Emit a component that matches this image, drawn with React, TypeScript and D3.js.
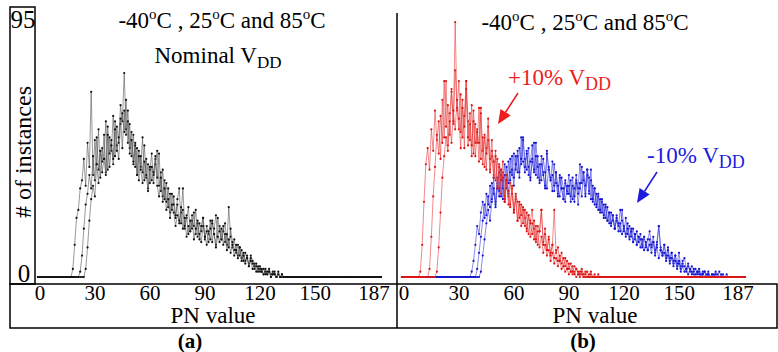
import React from "react";
import * as d3 from "d3";

const PN_MAX = 187;
const Y_MAX = 95;
const xTicks = [0, 30, 60, 90, 120, 150, 187];

// (a) nominal VDD, one series per temperature: first non-zero PN + counts
const nomStart = [19, 23, 26];
const nom40 = [
  3, 12, 22, 25, 33, 36, 44, 34, 50, 41,
  69, 38, 51, 42, 55, 37, 48, 44, 58, 40,
  52, 47, 60, 45, 56, 50, 64, 58, 76, 55,
  62, 48, 54, 42, 50, 38, 47, 41, 52, 36,
  44, 33, 40, 46, 35, 42, 47, 34, 39, 30,
  36, 28, 33, 24, 31, 27, 22, 29, 33, 20,
  25, 18, 22, 26, 17, 21, 19, 25, 15, 20,
  17, 22, 14, 19, 16, 21, 13, 18, 23, 15,
  19, 14, 17, 20, 12, 26, 15, 11, 14, 9,
  12, 8, 10, 6, 9, 7, 5, 8, 6, 4,
  5, 3, 4, 2, 3, 1, 2, 3, 1, 2,
  1, 0, 1, 0, 1, 0, 0,
];
const nom25 = [
  2, 8, 18, 27, 31, 38, 33, 45, 36, 52,
  40, 47, 43, 53, 39, 56, 46, 51, 42, 58,
  49, 44, 57, 61, 54, 66, 50, 57, 45, 53,
  41, 48, 36, 45, 39, 49, 37, 42, 35, 41,
  38, 44, 37, 46, 32, 40, 29, 35, 26, 31,
  25, 30, 23, 27, 20, 24, 33, 19, 23, 16,
  21, 18, 24, 16, 20, 14, 19, 22, 15, 17,
  13, 18, 21, 16, 12, 22, 17, 14, 19, 13,
  16, 11, 18, 13, 10, 12, 8, 11, 7, 9,
  6, 8, 4, 7, 5, 3, 4, 2, 3, 2,
  1, 3, 1, 2, 0, 1, 2, 0, 1, 0,
];
const nom85 = [
  3, 11, 21, 29, 34, 30, 42, 35, 47, 39,
  44, 38, 53, 41, 49, 44, 55, 47, 52, 59,
  48, 62, 53, 58, 46, 51, 43, 49, 38, 45,
  40, 35, 43, 38, 32, 41, 36, 39, 45, 34,
  30, 37, 28, 33, 25, 29, 22, 27, 24, 19,
  23, 21, 26, 18, 22, 15, 19, 17, 23, 14,
  18, 21, 16, 13, 19, 15, 12, 17, 14, 20,
  16, 11, 15, 13, 18, 12, 16, 10, 14, 9,
  12, 8, 10, 7, 11, 6, 8, 5, 7, 4,
  6, 3, 5, 2, 4, 2, 3, 1, 2, 1,
  2, 0, 1, 1, 0, 2, 0, 1, 0, 0,
];

// (b) +10% VDD
const hiStart = [10, 15, 19];
const hi40 = [
  2, 12, 28, 42, 48, 40, 55, 47, 62, 51,
  58, 44, 66, 52, 73, 49, 61, 70, 57, 95,
  62, 73, 54, 66, 48, 73, 58, 51, 64, 46,
  57, 50, 63, 44, 52, 41, 48, 59, 40, 45,
  38, 47, 34, 42, 31, 39, 28, 35, 30, 26,
  33, 24, 29, 21, 27, 19, 25, 22, 17, 23,
  15, 20, 18, 13, 17, 11, 15, 9, 12, 8,
  10, 6, 9, 5, 7, 4, 6, 3, 4, 2,
  3, 1, 2, 1, 2, 0, 1, 0, 1, 0,
];
const hi25 = [
  3, 15, 30, 41, 53, 46, 60, 50, 73, 56,
  64, 53, 69, 58, 77, 63, 55, 68, 52, 60,
  73, 49, 57, 45, 62, 50, 55, 43, 63, 47,
  52, 40, 56, 44, 51, 37, 45, 33, 41, 36,
  43, 30, 38, 27, 35, 31, 24, 30, 21, 28,
  23, 26, 19, 24, 16, 21, 25, 14, 19, 12,
  17, 25, 13, 18, 10, 15, 8, 12, 25, 9,
  11, 6, 9, 4, 7, 3, 5, 2, 4, 1,
  3, 2, 1, 2, 0, 1, 2, 0, 1, 0,
];
const hi85 = [
  2, 11, 24, 37, 45, 52, 47, 58, 50, 62,
  55, 66, 59, 48, 63, 56, 70, 52, 61, 49,
  58, 45, 54, 50, 61, 42, 53, 46, 51, 39,
  47, 43, 36, 44, 33, 40, 37, 29, 36, 32,
  27, 34, 25, 31, 28, 22, 27, 20, 25, 18,
  23, 20, 16, 21, 14, 19, 17, 25, 12, 16,
  10, 14, 9, 12, 7, 10, 6, 8, 5, 7,
  4, 6, 3, 5, 2, 4, 3, 1, 2, 3,
  1, 2, 0, 1, 2, 0, 1, 0, 1, 0, 0,
];

// (b) -10% VDD
const loStart = [38, 41, 43];
const lo40 = [
  2, 6, 12, 19, 16, 24, 28, 22, 31, 27,
  34, 29, 37, 26, 33, 39, 30, 36, 28, 41,
  35, 44, 38, 46, 40, 45, 37, 52, 43, 39,
  47, 41, 36, 44, 50, 38, 45, 35, 42, 39,
  33, 47, 40, 36, 43, 34, 39, 31, 37, 33,
  29, 35, 32, 38, 30, 34, 28, 36, 33, 42,
  35, 39, 31, 40, 37, 29, 34, 27, 31, 25,
  29, 24, 27, 22, 26, 20, 24, 21, 18, 23,
  19, 25, 21, 17, 22, 16, 19, 15, 18, 14,
  17, 13, 16, 12, 15, 11, 14, 17, 12, 15,
  10, 13, 19, 11, 9, 12, 8, 11, 7, 9,
  6, 8, 5, 9, 4, 6, 7, 3, 5, 2,
  4, 3, 1, 2, 3, 1, 2, 0, 1, 2,
  0, 1, 0, 2, 1, 0, 1, 0, 0, 1,
];
const lo25 = [
  3, 9, 15, 21, 27, 23, 30, 26, 35, 31,
  28, 37, 32, 40, 29, 38, 33, 43, 36, 40,
  34, 45, 39, 48, 42, 52, 44, 40, 48, 37,
  43, 39, 50, 41, 36, 45, 38, 34, 46, 40,
  37, 32, 42, 35, 30, 38, 33, 29, 36, 31,
  34, 28, 37, 30, 35, 27, 33, 41, 36, 30,
  38, 32, 40, 28, 33, 26, 30, 24, 28, 22,
  26, 21, 24, 19, 23, 18, 21, 20, 17, 25,
  18, 16, 20, 15, 18, 13, 16, 12, 15, 14,
  11, 15, 12, 10, 14, 11, 13, 9, 12, 19,
  10, 8, 12, 7, 10, 6, 9, 5, 8, 4,
  6, 3, 5, 4, 2, 4, 3, 1, 2, 3,
  1, 2, 0, 1, 2, 0, 1, 0, 1, 0,
  1, 0, 2, 0, 1, 0, 0, 0,
];
const lo85 = [
  2, 8, 14, 20, 25, 21, 28, 33, 27, 35,
  30, 38, 33, 42, 36, 31, 39, 45, 37, 42,
  47, 39, 44, 51, 41, 46, 38, 43, 49, 40,
  45, 37, 42, 36, 44, 39, 33, 41, 36, 38,
  32, 39, 34, 30, 37, 33, 28, 34, 31, 36,
  29, 33, 38, 31, 35, 30, 39, 34, 40, 31,
  36, 29, 33, 27, 31, 25, 29, 23, 27, 21,
  24, 20, 23, 18, 22, 17, 20, 16, 19, 15,
  18, 14, 17, 13, 16, 12, 15, 11, 14, 10,
  13, 10, 12, 9, 13, 8, 11, 7, 10, 8,
  9, 6, 8, 5, 7, 4, 6, 3, 5, 2,
  4, 2, 3, 1, 3, 2, 1, 0, 2, 1,
  0, 1, 2, 0, 1, 0, 0, 1, 0, 0,
];

const FONT = "Liberation Serif, DejaVu Serif, serif";

// full 0..187 run, zero outside the counted stretch
const toPoints = (start: number, vals: number[]) =>
  d3.range(0, PN_MAX + 1).map((pn) => {
    const i = pn - start;
    return [pn, i >= 0 && i < vals.length ? vals[i] : 0] as [number, number];
  });

const y = d3.scaleLinear().domain([0, Y_MAX]).range([277, 22]);

type Series = { start: number; values: number[]; line: string; dot: string };

const Panel = ({ x0, x1, series }: { x0: number; x1: number; series: Series[] }) => {
  const x = d3.scaleLinear().domain([0, PN_MAX]).range([x0, x1]);
  const line = d3.line<[number, number]>().x((d) => x(d[0])).y((d) => y(d[1]));
  return (
    <g>
      {series.map((s, si) => {
        const pts = toPoints(s.start, s.values);
        return (
          <g key={si}>
            <path d={line(pts) || ""} fill="none" stroke={s.line} strokeWidth={0.6} />
            {pts.map((p, i) => (
              <circle key={i} cx={x(p[0])} cy={y(p[1])} r={1.1} fill={s.dot} />
            ))}
          </g>
        );
      })}
      {xTicks.map((t) => (
        <text key={t} x={t === 187 ? x(t) - 7 : x(t) + 2} y={300} fontSize={21} textAnchor="middle" style={{ fontFamily: FONT }}>
          {t}
        </text>
      ))}
    </g>
  );
};

const Temps = ({ cx, cy }: { cx: number; cy: number }) => (
  <text x={cx} y={cy} fontSize={23} textAnchor="middle" style={{ fontFamily: FONT }}>
    -40<tspan fontSize={15} dy={-9}>o</tspan>
    <tspan dy={9}>C , 25</tspan>
    <tspan fontSize={15} dy={-9}>o</tspan>
    <tspan dy={9}>C and 85</tspan>
    <tspan fontSize={15} dy={-9}>o</tspan>
    <tspan dy={9}>C</tspan>
  </text>
);

const Arrow = ({ x1, y1, x2, y2, color }: { x1: number; y1: number; x2: number; y2: number; color: string }) => {
  const a = Math.atan2(y2 - y1, x2 - x1);
  const len = 14, half = 6;
  const bx = x2 - len * Math.cos(a), by = y2 - len * Math.sin(a);
  const px = -Math.sin(a) * half, py = Math.cos(a) * half;
  return (
    <g>
      <line x1={x1} y1={y1} x2={bx} y2={by} stroke={color} strokeWidth={1.5} />
      <polygon points={`${x2},${y2} ${bx + px},${by + py} ${bx - px},${by - py}`} fill={color} />
    </g>
  );
};

export default function App() {
  const red = "#ee1c1c";
  const blue = "#1c1cdc";
  const nomSeries: Series[] = [nom40, nom25, nom85].map((v, i) => ({ start: nomStart[i], values: v, line: "#555", dot: "#111" }));
  const loSeries: Series[] = [lo40, lo25, lo85].map((v, i) => ({ start: loStart[i], values: v, line: "#3a3ae0", dot: "#1414cc" }));
  const hiSeries: Series[] = [hi40, hi25, hi85].map((v, i) => ({ start: hiStart[i], values: v, line: "#e83a3a", dot: "#dc1414" }));
  const f = { fontFamily: FONT };

  return (
    <svg width={778} height={352} style={{ position: "absolute", left: 0, top: 0, background: "#fff" }}>
      {/* frames */}
      <rect x={10} y={7} width={25} height={277} fill="none" stroke="#000" strokeWidth={1.5} />
      <rect x={10} y={284} width={767} height={44} fill="none" stroke="#000" strokeWidth={1.5} />
      <line x1={397} y1={13} x2={397} y2={328} stroke="#000" strokeWidth={1.5} />

      <text x={23} y={28} fontSize={25} textAnchor="middle" style={f}>95</text>
      <text x={24} y={282} fontSize={25} textAnchor="middle" style={f}>0</text>
      <text transform="translate(31,152) rotate(-90)" fontSize={24} textAnchor="middle" style={f}>
        # of instances
      </text>

      <Panel x0={38} x1={381} series={nomSeries} />
      <Panel x0={402} x1={745} series={[...loSeries, ...hiSeries]} />

      <Temps cx={222} cy={28} />
      <text x={218} y={63} fontSize={23} textAnchor="middle" style={f}>
        Nominal V<tspan fontSize={17} dy={5}>DD</tspan>
      </text>
      <Temps cx={585} cy={30} />

      <text x={508} y={85} fontSize={23} fill={red} style={f}>
        +10% V<tspan fontSize={18} dy={5}>DD</tspan>
      </text>
      <Arrow x1={518} y1={93} x2={498} y2={124} color={red} />
      <text x={647} y={163} fontSize={23} fill={blue} style={f}>
        -10% V<tspan fontSize={18} dy={5}>DD</tspan>
      </text>
      <Arrow x1={657} y1={172} x2={637} y2={203} color={blue} />

      <text x={213} y={323} fontSize={23} textAnchor="middle" style={f}>PN value</text>
      <text x={595} y={323} fontSize={23} textAnchor="middle" style={f}>PN value</text>
      <text x={190} y={348} fontSize={21} fontWeight="bold" textAnchor="middle" style={f}>(a)</text>
      <text x={583} y={348} fontSize={21} fontWeight="bold" textAnchor="middle" style={f}>(b)</text>
    </svg>
  );
}
